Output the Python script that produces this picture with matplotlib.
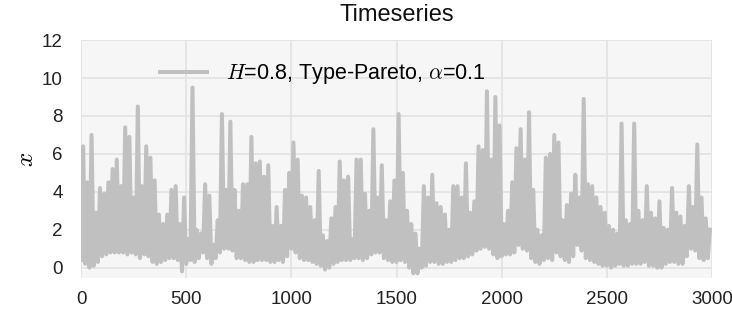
import numpy as np
import matplotlib
matplotlib.use("Agg")
from matplotlib import pyplot as plt

# per 20-step chunk, top and bottom of the trace
hi_a = [6.4, 4.5, 7.0, 2.9, 4.2, 3.9, 4.5, 5.2, 5.7, 4.3, 7.4, 6.9, 3.7, 8.5, 4.3, 6.4, 5.8, 4.6, 2.8, 2.3,
        2.8, 4.1, 4.3, 2.3, 3.7, 1.5, 9.5, 2.0, 1.8, 4.4, 3.8, 1.2, 2.5, 8.1, 4.1, 7.7, 4.1]
hi_b = [3.0, 4.4, 4.4, 6.9, 5.5, 5.6, 4.8, 5.4, 2.2, 3.2, 2.2, 4.1, 5.0, 6.6, 5.7, 3.8, 3.7, 3.2, 2.5, 5.1,
        1.7, 1.4, 2.6, 3.2, 5.6, 4.6, 4.8, 1.5, 5.7, 5.7, 3.9, 3.0, 7.3, 3.7, 5.4, 2.5, 3.5, 4.6]
hi_c = [8.1, 5.0, 3.0, 2.3, 1.8, 1.0, 4.3, 3.7, 4.9, 3.4, 3.2, 2.8, 2.0, 4.3, 4.3, 3.7, 5.5, 2.9, 3.5, 6.4,
        6.2, 9.3, 5.7, 9.0, 7.5, 2.3, 3.0, 4.5, 6.3, 7.3, 5.7, 8.2, 4.1, 2.0, 1.7, 5.8, 6.0]
hi_d = [7.0, 6.6, 2.5, 3.3, 3.9, 4.9, 3.7, 8.9, 4.4, 4.3, 3.7, 3.2, 2.9, 2.2, 2.0, 1.8, 7.6, 2.5, 2.3, 7.6,
        3.0, 2.5, 4.3, 2.9, 2.6, 3.5, 2.1, 2.0, 4.2, 2.9, 2.7, 2.2, 4.3, 3.2, 6.5, 3.7, 2.6, 2.0]

lo_a = [0.4, 0.2, 0.0, 0.1, 0.3, 0.6, 0.7, 0.8, 0.8, 0.8, 0.8, 0.7, 0.8, 0.7, 0.5, 0.7, 0.6, 0.3, 0.2, 0.3,
        0.4, 0.5, 0.5, 0.4, -0.2, 0.2, 0.4, 0.3, 0.5, 0.8, 0.5, 0.2, 0.5, 0.8, 1.0, 1.0, 0.9]
lo_b = [0.5, 0.5, 0.4, 0.3, 0.3, 0.4, 0.4, 0.4, 0.3, 0.3, 0.4, 0.3, 0.6, 1.0, 0.8, 0.5, 0.4, 0.4, 0.3, 0.2,
        0.1, -0.1, 0.0, 0.2, 0.3, 0.4, 0.4, 0.4, 0.5, 0.5, 0.4, 0.5, 0.7, 0.8, 0.8, 0.5, 0.4, 0.3]
lo_c = [0.3, 0.4, 0.3, 0.0, -0.3, -0.3, 0.0, 0.1, 0.3, 0.3, 0.2, 0.2, 0.3, 0.3, 0.4, 0.5, 0.5, 0.6, 0.7, 0.9,
        1.0, 1.1, 1.0, 0.7, 0.5, 0.6, 0.7, 0.7, 0.8, 1.2, 1.0, 0.9, 0.5, 0.3, 0.2, 0.4, 0.5]
lo_d = [0.4, 0.8, 0.6, 0.4, 0.3, 0.6, 1.2, 0.9, 0.5, 0.4, 0.3, 0.2, 0.1, 0.1, 0.0, 0.1, 0.2, 0.1, 0.1, 0.2,
        0.2, 0.2, 0.3, 0.1, 0.1, 0.0, 0.0, 0.2, 0.3, 0.3, 0.2, 0.2, 0.6, 1.0, 0.9, 0.5, 0.4, 0.5]

y_ticks = [0, 2, 4, 6, 8, 10, 12]
x_ticks = [0, 500, 1000, 1500, 2000, 2500, 3000]
label = r"$H$=0.8, Type-Pareto, $\alpha$=0.1"

hi = np.array(hi_a + hi_b + hi_c + hi_d)
lo = np.array(lo_a + lo_b + lo_c + lo_d)
series = np.column_stack([lo, hi]).ravel()
t = np.arange(len(series)) * 10

plt.rcParams['font.family'] = ['Liberation Sans', 'DejaVu Sans']
plt.rcParams['mathtext.fontset'] = 'cm'

fig = plt.figure(figsize=(7.32, 3.16), dpi=100)
ax = fig.add_axes([0.1107, 0.120, 0.862, 0.753])
ax.set_facecolor('#f6f6f6')
ax.grid(True, color='#e4e4e4', linewidth=1.3)
ax.set_axisbelow(True)
for s in ax.spines.values():
    s.set_visible(False)

ax.plot(t, series, color='#c0c0c0', linewidth=2.9, label=label)

ax.set_xlim(0, 3000)
ax.set_ylim(-0.55, 12)
ax.set_xticks(x_ticks)
ax.set_yticks(y_ticks)
ax.tick_params(length=0, labelsize=13.5, colors='#222222')
ax.tick_params(axis='y', pad=13)
ax.tick_params(axis='x', pad=9)
ax.set_title("Timeseries", fontsize=17, color='#111111', pad=14)
ax.set_ylabel(r"$x$", fontsize=18, labelpad=3)

ax.legend(loc='center left', bbox_to_anchor=(0.125, 0.857), frameon=False,
          fontsize=15.5, borderpad=0, borderaxespad=0, handletextpad=0.85,
          handlelength=2.2)

fig.savefig("out.png", dpi=100)
